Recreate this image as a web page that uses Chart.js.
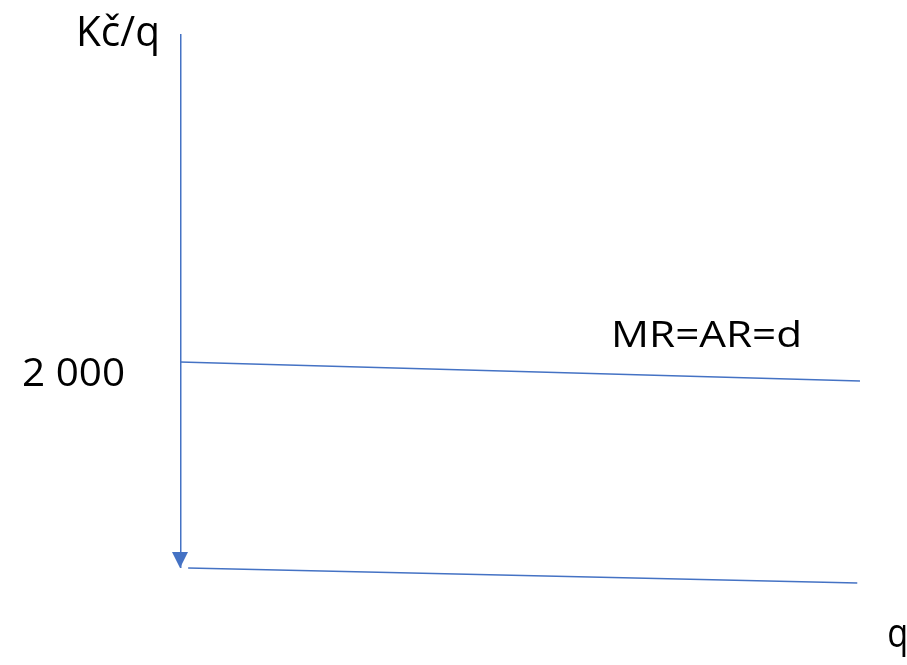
<!DOCTYPE html>
<html>
<head>
<meta charset="utf-8">
<script src="https://cdn.jsdelivr.net/npm/chart.js@4"></script>
<style>
  html, body { margin: 0; padding: 0; background: #fff; overflow: hidden; }
  #wrap { width: 907px; height: 665px; }
  canvas { display: block; }
</style>
</head>
<body>
<div id="wrap"><canvas id="chart" width="907" height="665"></canvas></div>
<script>
// vertical price axis (Kč/q), drawn with an arrow at the bottom
const axisQ = [0, 0];
const axisKc = [5180, 0];

// MR=AR=d line
const mrQ = [0, 100];
const mrKc = [2000, 1815];

// horizontal quantity line
const baseQ = [1.2, 99.6];
const baseKc = [0, -145];

const priceLabel = "2 000";
const priceValue = 2000;
const yTitle = "Kč/q";
const xTitle = "q";
const mrLabel = "MR=AR=d";

const blue = "#4472C4";

function toPoints(xs, ys) {
    return xs.map((x, i) => ({ x: x, y: ys[i] }));
}

// draws text starting at x (left edge) and stretched to a given width
function stretchText(ctx, text, x, y, size, width) {
    ctx.font = size + "px 'Open Sans'";
    const w = ctx.measureText(text).width;
    ctx.save();
    ctx.translate(x, y);
    ctx.scale(width / w, 1);
    ctx.fillText(text, 0, 0);
    ctx.restore();
}

const labelsPlugin = {
    id: "labels",
    afterDatasetsDraw(chart) {
        const ctx = chart.ctx;
        const xs = chart.scales.x;
        const ys = chart.scales.y;
        const x0 = xs.getPixelForValue(0);

        // arrow head at the end of the vertical axis
        const axisMeta = chart.getDatasetMeta(0);
        const tip = axisMeta.data[axisMeta.data.length - 1];
        ctx.save();
        ctx.fillStyle = blue;
        ctx.beginPath();
        ctx.moveTo(tip.x, tip.y);
        ctx.lineTo(tip.x - 8, tip.y - 16);
        ctx.lineTo(tip.x + 8, tip.y - 16);
        ctx.closePath();
        ctx.fill();

        ctx.fillStyle = "#000";
        ctx.textBaseline = "alphabetic";
        ctx.textAlign = "left";

        stretchText(ctx, yTitle, x0 - 104, ys.getPixelForValue(5180) + 12, 42, 84);
        stretchText(ctx, priceLabel, x0 - 158, ys.getPixelForValue(priceValue) + 24, 39, 103);
        stretchText(ctx, mrLabel, xs.getPixelForValue(63.4), ys.getPixelForValue(priceValue) - 15, 36, 191);
        stretchText(ctx, xTitle, xs.getPixelForValue(104.0), ys.getPixelForValue(0) + 79, 40, 21);
        ctx.restore();
    }
};

new Chart(document.getElementById("chart").getContext("2d"), {
    type: "scatter",
    data: {
        datasets: [
            {
                data: toPoints(axisQ, axisKc),
                showLine: true,
                borderColor: blue,
                borderWidth: 3,
                pointRadius: 0
            },
            {
                data: toPoints(mrQ, mrKc),
                showLine: true,
                borderColor: blue,
                borderWidth: 1.5,
                pointRadius: 0
            },
            {
                data: toPoints(baseQ, baseKc),
                showLine: true,
                borderColor: blue,
                borderWidth: 1.5,
                pointRadius: 0
            }
        ]
    },
    options: {
        responsive: false,
        animation: false,
        layout: { padding: { left: 180, right: 47, top: 32, bottom: 66 } },
        plugins: {
            legend: { display: false },
            tooltip: { enabled: false }
        },
        scales: {
            x: { type: "linear", min: 0, max: 100, display: false },
            y: { type: "linear", min: -300, max: 5200, display: false }
        }
    },
    plugins: [labelsPlugin]
});
</script>
</body>
</html>
